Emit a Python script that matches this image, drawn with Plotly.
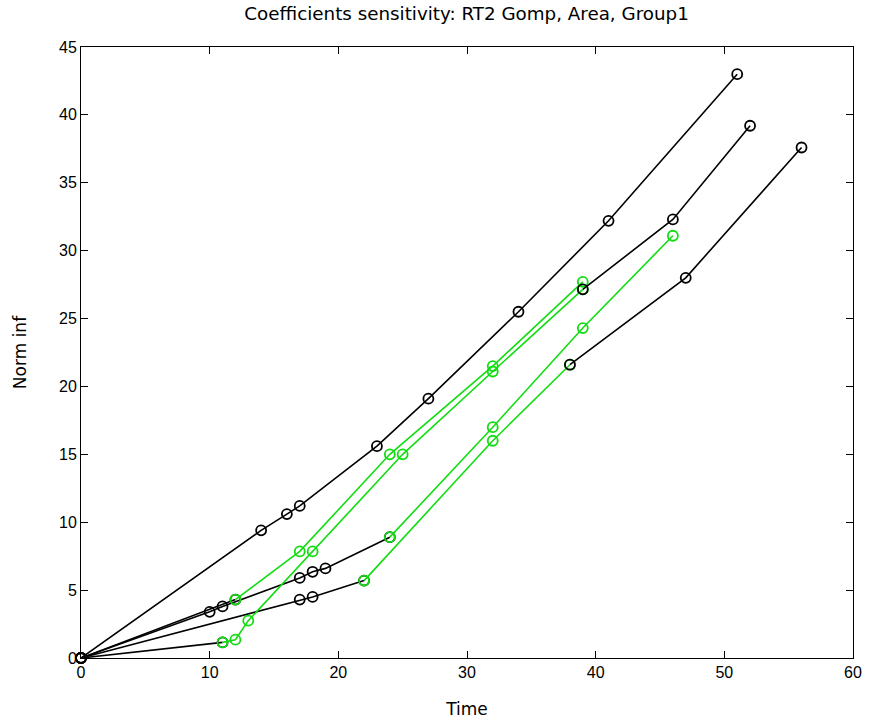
import plotly.graph_objects as go

# ---- data (Time, Norm inf) for each run ----
t_A = [0, 14, 16, 17, 23, 27, 34, 41, 51]
y_A = [0, 9.4, 10.6, 11.2, 15.6, 19.1, 25.5, 32.2, 43.0]

t_B = [0, 10, 11, 17, 18, 19, 24, 32, 39, 46]
y_B = [0, 3.4, 3.8, 5.9, 6.35, 6.6, 8.9, 17.0, 24.3, 31.1]

t_C = [0, 17, 18, 22, 32, 38, 47, 56]
y_C = [0, 4.3, 4.5, 5.7, 16.0, 21.6, 28.0, 37.6]

t_D = [0, 11, 12, 13, 18, 25, 32, 39, 46, 52]
y_D = [0, 1.15, 1.35, 2.75, 7.85, 15.0, 21.1, 27.15, 32.3, 39.2]

t_E = [0, 12, 17, 24, 32, 39]
y_E = [0, 4.3, 7.85, 15.0, 21.5, 27.7]

# index range (first, last) of the green phase of each run; None = all black
green_A = None
green_B = (6, 9)
green_C = (3, 5)
green_D = (1, 7)
green_E = (1, 5)

runs = [(t_A, y_A, green_A), (t_B, y_B, green_B), (t_C, y_C, green_C),
        (t_D, y_D, green_D), (t_E, y_E, green_E)]

x_ticks = [0, 10, 20, 30, 40, 50, 60]
y_ticks = [0, 5, 10, 15, 20, 25, 30, 35, 40, 45]

title_text = "Coefficients sensitivity: RT2 Gomp, Area, Group1"
x_title = "Time"
y_title = "Norm inf"

BLACK = "#000000"
GREEN = "#11dd11"
TICK_FONT = "Liberation Sans, Arial, sans-serif"
TEXT_FONT = "DejaVu Sans, Verdana, sans-serif"

fig = go.Figure()


def add(t, y, color):
    if len(t) == 0:
        return
    fig.add_trace(go.Scatter(
        x=t, y=y, mode="lines+markers",
        line=dict(color=color, width=1.6),
        marker=dict(symbol="circle-open", size=10, color=color,
                    line=dict(width=1.8, color=color)),
        cliponaxis=False, showlegend=False, hoverinfo="x+y"))


heads, greens, tails = [], [], []
for t, y, g in runs:
    if g is None:
        heads.append((t, y))
        continue
    a, b = g
    heads.append((t[:a + 1], y[:a + 1]))
    greens.append((t[a:b + 1], y[a:b + 1]))
    tails.append((t[b:], y[b:]) if b < len(t) - 1 else ([], []))

for t, y in heads:
    add(t, y, BLACK)
for t, y in greens:
    add(t, y, GREEN)
for t, y in tails:
    add(t, y, BLACK)

axis_common = dict(
    showgrid=False, zeroline=False, showline=True, linecolor="black",
    linewidth=1, mirror="ticks", ticks="inside", ticklen=7, tickwidth=1,
    tickcolor="black", tickfont=dict(family=TICK_FONT, size=16, color="black"),
    automargin=False,
)

fig.update_layout(
    width=877, height=724,
    margin=dict(l=81, r=24, t=47, b=66),
    paper_bgcolor="white", plot_bgcolor="white",
    title=dict(text=title_text, x=0.532, xanchor="center",
               y=1 - 14 / 724, yanchor="middle", yref="container",
               font=dict(family=TEXT_FONT, size=18.3, color="black")),
    xaxis=dict(range=[0, 60], tickvals=x_ticks,
               ticktext=[str(v) for v in x_ticks],
               title=dict(text=x_title, standoff=22,
                          font=dict(family=TEXT_FONT, size=17, color="black")),
               **axis_common),
    yaxis=dict(range=[0, 45], tickvals=y_ticks,
               ticktext=[str(v) for v in y_ticks],
               title=dict(text=y_title, standoff=28,
                          font=dict(family=TEXT_FONT, size=17, color="black")),
               **axis_common),
)

fig.write_html("out.html")
